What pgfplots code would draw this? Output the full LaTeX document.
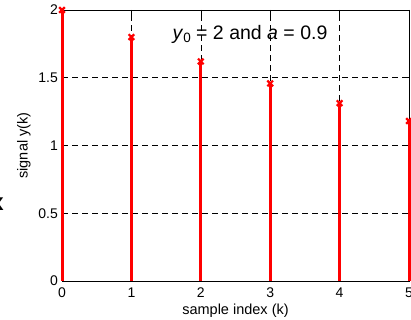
\documentclass[border=0pt]{standalone}
\usepackage{pgfplots}
\pgfplotsset{compat=1.18}
\usepackage{fontspec}
\setmainfont{Liberation Sans}
\begin{document}
\begin{tikzpicture}
\useasboundingbox (0,0) rectangle (411pt,320pt);
\clip (0,0) rectangle (411pt,320pt);
\node[font=\fontsize{24}{24}\selectfont\bfseries, inner sep=0pt] at (-3pt,116pt) {x};
\begin{axis}[
  at={(62pt,39pt)}, anchor=south west,
  width=347pt, height=271pt, scale only axis,
  xmin=0, xmax=5, ymin=0, ymax=2,
  xtick={0,1,2,3,4,5}, ytick={0,0.5,1,1.5,2},
  /pgf/number format/assume math mode=true,
  tick label style={font=\fontsize{14}{16}\selectfont},
  yticklabel style={inner sep=0pt, anchor=east, xshift=-4pt},
  xticklabel style={inner sep=0pt, anchor=north, yshift=-7pt},
  tick align=inside, major tick length=5pt,
  tick style={black, line width=0.6pt},
  axis line style={black, line width=0.8pt},
  grid=major,
  major grid style={black, line width=0.6pt, dash pattern=on 6pt off 4pt},
  clip=false,
  xlabel={sample index (k)},
  ylabel={signal y(k)},
  label style={font=\fontsize{14.5}{16}\selectfont},
  xlabel style={at={(axis description cs:0.5,0)}, anchor=base, yshift=-34pt, inner sep=0pt},
  ylabel style={at={(axis description cs:-0.11,0.5)}, anchor=center, inner sep=0pt},
]
\addplot[red, line width=3pt, ycomb, mark=x, mark size=4pt, mark options={line width=2.2pt, solid}]
  coordinates {(0,2) (1,1.8) (2,1.62) (3,1.458) (4,1.3122) (5,1.18098)};
\node[anchor=base west, inner sep=0pt, font=\fontsize{19.5}{20}\selectfont] at (axis cs:1.59,1.78)
  {\textit{y}\raisebox{-0.3ex}{\fontsize{13.5}{13.5}\selectfont 0} = 2 and \textit{a} = 0.9};
\end{axis}
\end{tikzpicture}
\end{document}
